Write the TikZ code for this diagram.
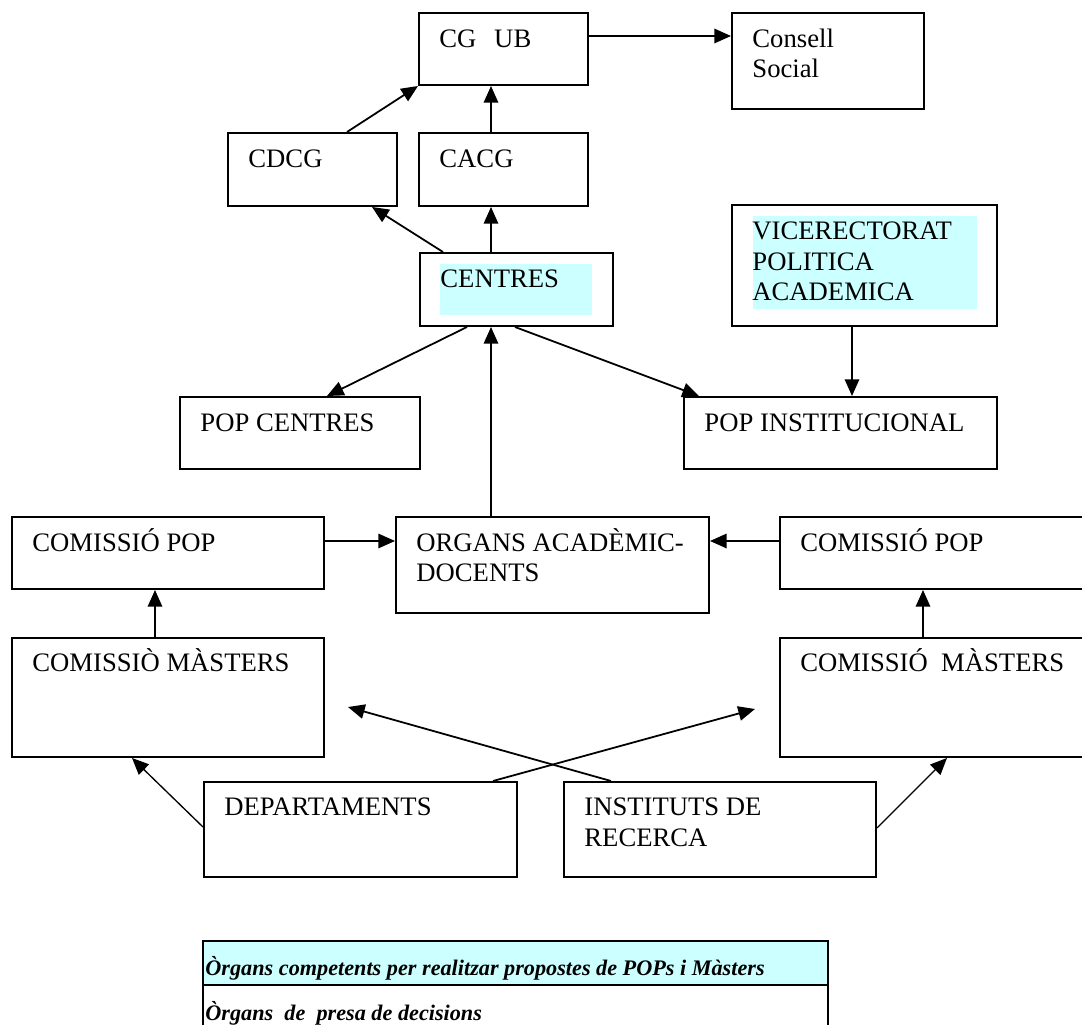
\documentclass[tikz,border=0pt]{standalone}
\usepackage{fontspec}
\setmainfont{Liberation Serif}
\usetikzlibrary{positioning, fit, arrows.meta}
\definecolor{cyanlight}{RGB}{204,255,255}

\begin{document}
\begin{tikzpicture}[
    % GLOBAL CFG
    x=0.45pt, y=-0.45pt,
    font=\fontsize{12pt}{13.8pt}\selectfont,
    >={Triangle[length=7.5pt, width=6.5pt]},
    % Styles
    orgbox/.style={
        draw,
        line width=0.9pt,
        inner sep=0pt,
    },
    boxtext/.style={
        anchor=base west,
        inner sep=0pt,
        align=left,
    },
    hilite/.style={
        fill=cyanlight,
    },
    link/.style={
        ->,
        line width=0.8pt,
    },
    thinlink/.style={
        ->,
        line width=0.6pt,
    },
]
    % Page size
    \useasboundingbox (0,0) rectangle (1082,1025);
    \clip (0,0) rectangle (1082,1025);

    % Highlights behind the texts
    \fill [hilite] (440,264) rectangle (592,315);
    \fill [hilite] (753,216) rectangle (977,309);

    % Draw the boxes
    \node [orgbox, fit={(419,13) (588,85)}] (cgub) {};
    \node [orgbox, fit={(732,13) (924,109)}] (consell) {};
    \node [orgbox, fit={(228,133) (397,206)}] (cdcg) {};
    \node [orgbox, fit={(419,133) (588,206)}] (cacg) {};
    \node [orgbox, fit={(420,253) (613,326)}] (centres) {};
    \node [orgbox, fit={(732,205) (997,326)}] (vice) {};
    \node [orgbox, fit={(180,397) (420,469)}] (popcen) {};
    \node [orgbox, fit={(684,397) (997,469)}] (popinst) {};
    \node [orgbox, fit={(12,517) (324,589)}] (comL) {};
    \node [orgbox, fit={(396,517) (709,613)}] (organs) {};
    \node [orgbox, fit={(780,517) (1095,589)}] (comR) {};
    \node [orgbox, fit={(12,638) (324,757)}] (masL) {};
    \node [orgbox, fit={(780,638) (1095,757)}] (masR) {};
    \node [orgbox, fit={(204,782) (517,877)}] (dep) {};
    \node [orgbox, fit={(564,782) (876,877)}] (inst) {};

    % Texts of the boxes (base = last line)
    \node [boxtext] (cgubt) at ([shift={(21,35.5)}]cgub.north west) {CG\hspace{8pt}UB};
    \node [boxtext] (consellt) at ([shift={(21,66)}]consell.north west) {Consell\\Social};
    \node [boxtext] (cdcgt) at ([shift={(21,35.5)}]cdcg.north west) {CDCG};
    \node [boxtext] (cacgt) at ([shift={(21,35.5)}]cacg.north west) {CACG};
    \node [boxtext] (centrest) at ([shift={(21,35.5)}]centres.north west) {CENTRES};
    \node [boxtext] (vicet) at ([shift={(21,97)}]vice.north west) {VICERECTORAT\\POLITICA\\ACADEMICA};
    \node [boxtext] (popcent) at ([shift={(21,35.5)}]popcen.north west) {POP CENTRES};
    \node [boxtext] (popinstt) at ([shift={(21,35.5)}]popinst.north west) {POP INSTITUCIONAL};
    \node [boxtext] (comLt) at ([shift={(21,35.5)}]comL.north west) {COMISSIÓ POP};
    \node [boxtext] (organst) at ([shift={(21,66)}]organs.north west) {ORGANS ACADÈMIC-\\DOCENTS};
    \node [boxtext] (comRt) at ([shift={(21,35.5)}]comR.north west) {COMISSIÓ POP};
    \node [boxtext] (masLt) at ([shift={(21,35)}]masL.north west) {COMISSIÒ MÀSTERS};
    \node [boxtext] (masRt) at ([shift={(21,35)}]masR.north west) {COMISSIÓ\ \ MÀSTERS};
    \node [boxtext] (dept) at ([shift={(21,35)}]dep.north west) {DEPARTAMENTS};
    \node [boxtext] (instt) at ([shift={(21,65.5)}]inst.north west) {INSTITUTS DE\\RECERCA};

    % Free ends of the crossing arrows
    \coordinate (tipL) at (348,707);
    \coordinate (tipR) at (755,709);

    % Upper part
    \draw [link] ([shift={(0,24)}]cgub.north east) -- ([shift={(0,24)}]consell.north west);
    \draw [link] ([shift={(120,0)}]cdcg.north west) -- (cgub.south west);
    \draw [link] ([shift={(73,0)}]cacg.north west) coordinate (a1) -- (a1 |- cgub.south);
    \draw [link] ([shift={(24,0)}]centres.north west) -- ([shift={(145,0)}]cdcg.south west);
    \draw [link] ([shift={(72,0)}]centres.north west) coordinate (a2) -- (a2 |- cacg.south);

    % Middle part
    \draw [link] ([shift={(48,0)}]centres.south west) -- ([shift={(148,0)}]popcen.north west);
    \draw [link] ([shift={(96,0)}]centres.south west) -- ([shift={(16,0)}]popinst.north west);
    \draw [link] ([shift={(121,0)}]vice.south west) coordinate (a3) -- (a3 |- popinst.north);
    \draw [link] ([shift={(96,0)}]organs.north west) coordinate (a4) -- (a4 |- centres.south);
    \draw [link] ([shift={(0,25)}]comL.north east) -- ([shift={(0,25)}]organs.north west);
    \draw [link] ([shift={(0,25)}]comR.north west) -- ([shift={(0,25)}]organs.north east);

    % Lower part
    \draw [link] ([shift={(144,0)}]masL.north west) coordinate (a5) -- (a5 |- comL.south);
    \draw [link] ([shift={(144,0)}]masR.north west) coordinate (a6) -- (a6 |- comR.south);
    \draw [thinlink] ([shift={(0,46)}]dep.north west) -- ([shift={(121,0)}]masL.south west);
    \draw [thinlink] ([shift={(0,47)}]inst.north east) -- ([shift={(168,0)}]masR.south west);
    \draw [link] ([shift={(48,0)}]inst.north west) -- (tipL);
    \draw [link] ([shift={(290,0)}]dep.north west) -- (tipR);

    % Legend
    \node [orgbox, hilite, fit={(203,941) (828,985)}] (legA) {};
    \node [orgbox, fit={(203,985) (828,1060)}] (legB) {};
    \node [boxtext, font=\bfseries\itshape] (legAt) at ([shift={(3,36)}]legA.north west)
        {Òrgans competents per realitzar propostes de POPs i Màsters};
    \node [boxtext, font=\bfseries\itshape] (legBt) at ([shift={(3,37)}]legB.north west)
        {Òrgans\ \ de\ \ presa de decisions};

\end{tikzpicture}
\end{document}
